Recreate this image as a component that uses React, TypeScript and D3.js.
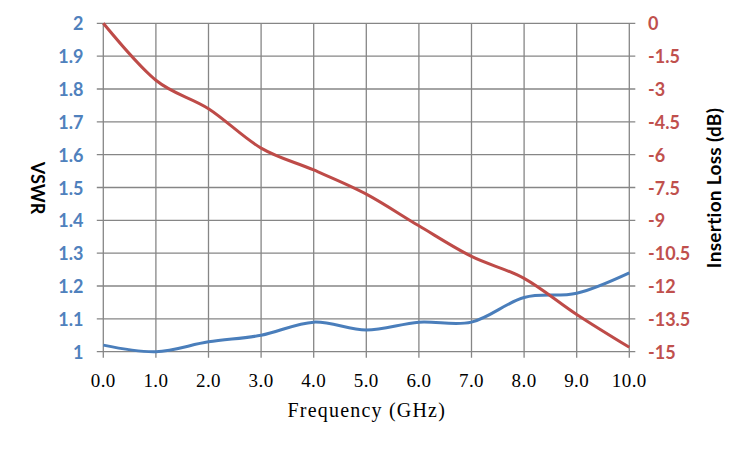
import * as d3 from "d3";

// frequency points (GHz)
const freqs = [0, 1, 2, 3, 4, 5, 6, 7, 8, 9, 10];
// VSWR series (left axis)
const vswr = [1.02, 1.0, 1.03, 1.05, 1.09, 1.066, 1.09, 1.09, 1.165, 1.178, 1.24];
// insertion loss series in dB (right axis)
const insertionLoss = [0, -2.6, -3.9, -5.7, -6.7, -7.8, -9.25, -10.65, -11.65, -13.3, -14.8];

const xTicks = [0, 1, 2, 3, 4, 5, 6, 7, 8, 9, 10];
const vswrTicks = [1, 1.1, 1.2, 1.3, 1.4, 1.5, 1.6, 1.7, 1.8, 1.9, 2];
const lossTicks = [0, -1.5, -3, -4.5, -6, -7.5, -9, -10.5, -12, -13.5, -15];

const W = 750;
const H = 450;
const plot = { left: 103.3, right: 629.3, top: 23.3, bottom: 351.7 };

const GRID = "#868686";
const BLUE = "#4A7EBB";
const RED = "#BE4B48";
const BLUE_TXT = "#4F81BD";
const RED_TXT = "#C0504D";
const sans = "Lato, 'Open Sans', sans-serif";
const serif = "'Liberation Serif', 'DejaVu Serif', serif";

export default function App() {
  const x = d3.scaleLinear().domain([0, 10]).range([plot.left, plot.right]);
  const yL = d3.scaleLinear().domain([1, 2]).range([plot.bottom, plot.top]);
  const yR = d3.scaleLinear().domain([-15, 0]).range([plot.bottom, plot.top]);

  const curve = d3.curveCardinal.tension(0);
  const vswrPath = d3
    .line<number>()
    .x((_d, i) => x(freqs[i]))
    .y((d) => yL(d))
    .curve(curve)(vswr);
  const lossPath = d3
    .line<number>()
    .x((_d, i) => x(freqs[i]))
    .y((d) => yR(d))
    .curve(curve)(insertionLoss);

  const cy = (plot.top + plot.bottom) / 2 + 0.5;

  return (
    <svg
      width={W}
      height={H}
      style={{ position: "absolute", left: 0, top: 0, background: "#fff" }}
    >
      {/* vertical grid + bottom ticks */}
      {xTicks.map((t) => (
        <line
          key={"vx" + t}
          x1={x(t)}
          x2={x(t)}
          y1={plot.top}
          y2={plot.bottom + 6}
          stroke={GRID}
          strokeWidth={1.3}
        />
      ))}
      {/* horizontal grid + side ticks */}
      {vswrTicks.map((t) => (
        <line
          key={"hy" + t}
          x1={plot.left - 6.5}
          x2={plot.right + 6}
          y1={yL(t)}
          y2={yL(t)}
          stroke={GRID}
          strokeWidth={1.3}
        />
      ))}

      <path d={vswrPath!} fill="none" stroke={BLUE} strokeWidth={3} />
      <path d={lossPath!} fill="none" stroke={RED} strokeWidth={3} />

      {/* left axis labels */}
      {vswrTicks.map((t) => (
        <text
          key={"ly" + t}
          x={83.5}
          y={yL(t)}
          textAnchor="end"
          dominantBaseline="central"
          fontFamily={sans}
          fontWeight="bold"
          fontSize={18}
          fill={BLUE_TXT}
        >
          {d3.format("~g")(t)}
        </text>
      ))}
      {/* right axis labels */}
      {lossTicks.map((t) => (
        <text
          key={"ry" + t}
          x={648}
          y={yR(t)}
          textAnchor="start"
          dominantBaseline="central"
          fontFamily={sans}
          fontWeight="bold"
          fontSize={18}
          fill={RED_TXT}
        >
          {String(t)}
        </text>
      ))}
      {/* bottom labels */}
      {xTicks.map((t) => (
        <text
          key={"bx" + t}
          x={x(t)}
          y={386.5}
          textAnchor="middle"
          fontFamily={serif}
          fontSize={19}
          letterSpacing={0.4}
          fill="#000"
        >
          {t.toFixed(1)}
        </text>
      ))}

      <text
        x={(plot.left + plot.right) / 2 + 0.5}
        y={417.3}
        textAnchor="middle"
        fontFamily={serif}
        fontSize={20}
        letterSpacing={1.2}
        fill="#000"
      >
        Frequency (GHz)
      </text>

      <text
        transform={`translate(31,${cy}) rotate(90)`}
        textAnchor="middle"
        fontFamily={sans}
        fontWeight="bold"
        fontSize={18}
        fill="#000"
      >
        VSWR
      </text>
      <text
        transform={`translate(721,${cy}) rotate(-90)`}
        textAnchor="middle"
        fontFamily={sans}
        fontWeight="bold"
        fontSize={19}
        letterSpacing={0.3}
        fill="#000"
      >
        Insertion Loss (dB)
      </text>
    </svg>
  );
}
